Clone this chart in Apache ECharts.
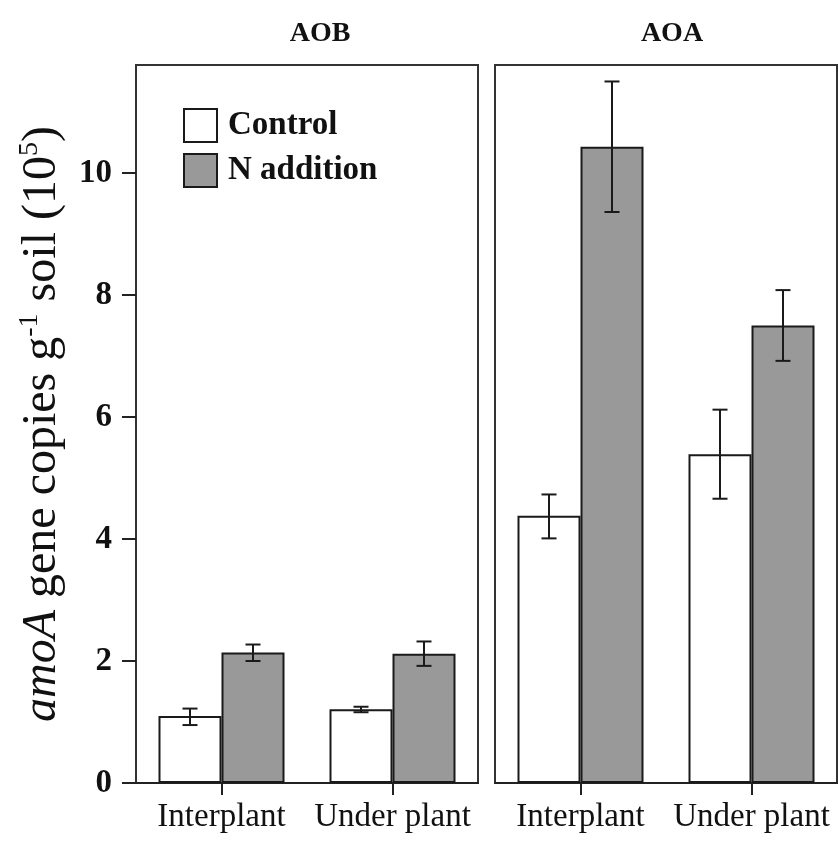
<!DOCTYPE html>
<html>
<head>
<meta charset="utf-8">
<script src="https://cdn.jsdelivr.net/npm/echarts@6/dist/echarts.min.js"></script>
<style>
html,body{margin:0;padding:0;background:#fff;}
#chart{width:838px;height:846px;}
</style>
</head>
<body>
<div id="chart"></div>
<script>
// ---- data ----
const categories = ['Interplant', 'Under plant'];
const panelTitles = ['AOB', 'AOA'];
const seriesNames = ['Control', 'N addition'];
const yTicks = [0, 2, 4, 6, 8, 10];
const yMax = 11.77;

const aobControl = [1.10, 1.21];
const aobControlErr = [[0.95, 1.22], [1.16, 1.25]];
const aobN = [2.14, 2.12];
const aobNErr = [[2.00, 2.27], [1.92, 2.32]];

const aoaControl = [4.38, 5.39];
const aoaControlErr = [[4.01, 4.73], [4.66, 6.12]];
const aoaN = [10.43, 7.50];
const aoaNErr = [[9.36, 11.50], [6.92, 8.08]];

// ---- style ----
const FONT = 'Liberation Serif';
const BAR_W = 63;
const INK = '#1a1a1a';
const GRAY = '#999999';

const chart = echarts.init(document.getElementById('chart'));

function errRender(side) {
  return function (params, api) {
    const i = api.value(0);
    const lo = api.coord([i, api.value(1)]);
    const hi = api.coord([i, api.value(2)]);
    const x = lo[0] + side * BAR_W / 2;
    const cap = 7.5;
    const st = { stroke: INK, lineWidth: 2 };
    return {
      type: 'group',
      children: [
        { type: 'line', shape: { x1: x, y1: lo[1], x2: x, y2: hi[1] }, style: st },
        { type: 'line', shape: { x1: x - cap, y1: lo[1], x2: x + cap, y2: lo[1] }, style: st },
        { type: 'line', shape: { x1: x - cap, y1: hi[1], x2: x + cap, y2: hi[1] }, style: st }
      ]
    };
  };
}

function barSeries(name, data, idx, fill) {
  return {
    name: name, type: 'bar', xAxisIndex: idx, yAxisIndex: idx,
    data: data, barWidth: BAR_W, barGap: '0%',
    itemStyle: { color: fill, borderColor: INK, borderWidth: 2 },
    emphasis: { disabled: true }, animation: false
  };
}
function errSeries(errs, idx, side) {
  return {
    type: 'custom', xAxisIndex: idx, yAxisIndex: idx, z: 5,
    data: errs.map((e, i) => [i, e[0], e[1]]),
    encode: { x: 0, y: [1, 2] },
    renderItem: errRender(side), animation: false, silent: true
  };
}

const grids = [
  { left: 136, top: 65, width: 342, height: 718, show: true, borderColor: '#333', borderWidth: 2,
    backgroundColor: 'transparent', containLabel: false, outerBoundsMode: 'none' },
  { left: 495, top: 65, width: 342, height: 718, show: true, borderColor: '#333', borderWidth: 2,
    backgroundColor: 'transparent', containLabel: false, outerBoundsMode: 'none' }
];

const xAxes = [0, 1].map(i => ({
  type: 'category', gridIndex: i, data: categories,
  axisLine: { show: true, lineStyle: { color: '#222', width: 2 } },
  axisTick: { show: true, alignWithLabel: true, length: 12, lineStyle: { color: '#222', width: 2 } },
  axisLabel: { color: '#111', fontFamily: FONT, fontSize: 33, margin: 18, interval: 0, hideOverlap: false },
  splitLine: { show: false }
}));

const yAxes = [0, 1].map(i => ({
  type: 'value', gridIndex: i, min: 0, max: yMax,
  axisLine: { show: true, lineStyle: { color: '#333', width: 2 } },
  axisTick: { show: i === 0, length: 14, customValues: yTicks, lineStyle: { color: '#222', width: 2 } },
  axisLabel: { show: i === 0, customValues: yTicks, color: '#111', fontFamily: FONT, fontWeight: 'bold', fontSize: 33, margin: 24 },
  splitLine: { show: false },
  name: i === 0 ? '{i|amoA} gene copies g{sup|-1} soil (10{sup|5})' : '',
  nameLocation: 'middle', nameRotate: 90, nameGap: 68,
  nameTextStyle: {
    color: '#111', fontFamily: FONT, fontSize: 48,
    rich: {
      i: { fontFamily: FONT, fontSize: 48, fontStyle: 'italic', color: '#111' },
      sup: { fontFamily: FONT, fontSize: 28, color: '#111', padding: [0, 0, 24, 0] }
    }
  }
}));

chart.setOption({
  backgroundColor: '#fff',
  animation: false,
  title: [
    { text: panelTitles[0], left: 315, top: 15, textAlign: 'center',
      textStyle: { fontFamily: FONT, fontWeight: 'bold', fontSize: 28, color: '#111' } },
    { text: panelTitles[1], left: 667, top: 15, textAlign: 'center',
      textStyle: { fontFamily: FONT, fontWeight: 'bold', fontSize: 28, color: '#111' } }
  ],
  legend: {
    data: seriesNames, orient: 'vertical', left: 178, top: 103,
    itemWidth: 33, itemHeight: 33, itemGap: 10, icon: 'rect',
    selectedMode: false,
    textStyle: { fontFamily: FONT, fontWeight: 'bold', fontSize: 33, color: '#111', padding: [0, 0, 0, 6] }
  },
  grid: grids,
  xAxis: xAxes,
  yAxis: yAxes,
  series: [
    barSeries(seriesNames[0], aobControl, 0, '#ffffff'),
    barSeries(seriesNames[1], aobN, 0, GRAY),
    errSeries(aobControlErr, 0, -1),
    errSeries(aobNErr, 0, 1),
    barSeries(seriesNames[0], aoaControl, 1, '#ffffff'),
    barSeries(seriesNames[1], aoaN, 1, GRAY),
    errSeries(aoaControlErr, 1, -1),
    errSeries(aoaNErr, 1, 1)
  ]
});
</script>
</body>
</html>
